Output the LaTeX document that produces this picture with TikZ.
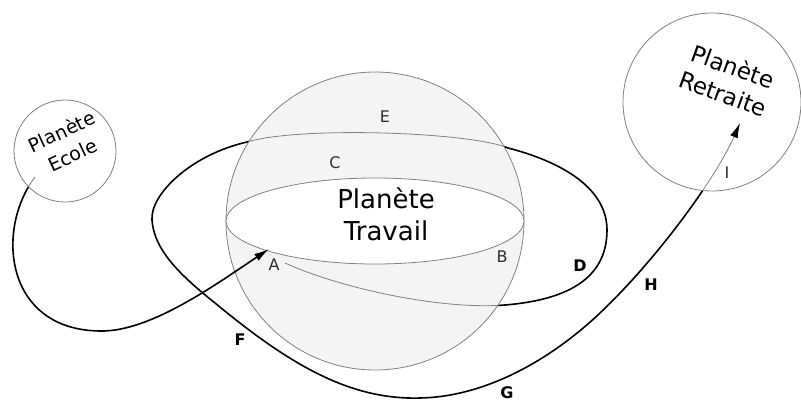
\documentclass[tikz,border=0pt]{standalone}
\usepackage{fontspec}
\setmainfont{DejaVu Sans}
\usetikzlibrary{arrows.meta}
\definecolor{orbitGray}{RGB}{128, 128, 128}
\definecolor{sphereFill}{RGB}{244, 244, 244}
\definecolor{labelInk}{RGB}{45, 45, 45}

% route of the orbit, from A round the planet to I
\newcommand{\orbitroute}{(ptA) .. controls (340,288) and (440,310) .. (505,305)
  .. controls (565,300) and (607,280) .. (607,230)
  .. controls (607,185) and (555,160) .. (508,148)
  .. controls (470,132) and (300,126) .. (247,142)
  .. controls (190,155) and (150,195) .. (152,220)
  .. controls (154,250) and (180,275) .. (215,303)
  .. controls (290,365) and (350,400) .. (420,398)
  .. controls (480,397) and (545,365) .. (600,313)
  .. controls (655,261) and (715,180) .. (ptI)}
\newcommand{\schoolroute}{(ecoleStart) .. controls (-5,230) and (5,330) .. (100,331)
  .. controls (150,332) and (215,285) .. (arrA)}

\begin{document}
\begin{tikzpicture}[
    x=1pt, y=-1pt,
    planet/.style={circle, draw=orbitGray, fill=white, line width=0.8pt, inner sep=0pt},
    orbit/.style={line width=1.6pt, color=black},
    inside/.style={line width=0.8pt, color=orbitGray},
    arrowend/.style={-{Latex[length=15pt, width=8pt, color=black]}},
    title/.style={align=center, inner sep=0pt},
    letter/.style={font=\fontsize{16pt}{18pt}\selectfont, text=labelInk, inner sep=0pt},
    boldletter/.style={font=\fontsize{16pt}{18pt}\selectfont\bfseries, inner sep=0pt}
  ]
  \useasboundingbox (0,0) rectangle (801,402);

  \coordinate (ptA) at (285,263);
  \coordinate (ptI) at (740,123);
  \coordinate (arrA) at (269,249);
  \coordinate (ecoleStart) at (35,177);

  % ORBIT (black part)
  \draw[orbit, arrowend] \orbitroute;

  % PLANETE TRAVAIL
  \node[planet, fill=sphereFill, minimum size=298pt] (travail) at (375,221) {};
  \draw[draw=orbitGray, fill=white, line width=0.8pt] (travail.center) ellipse (149 and 43);
  \begin{scope}
    \clip (travail.center) circle (148.6);
    \draw[inside] \orbitroute;
  \end{scope}

  % PLANETE RETRAITE
  \node[planet, minimum size=178pt] (retraite) at (712,102) {};
  \begin{scope}
    \clip (retraite.center) circle (88.6);
    \draw[inside, arrowend] \orbitroute;
  \end{scope}

  % PLANETE ECOLE
  \draw[orbit, arrowend] \schoolroute;
  \node[planet, minimum size=102pt] (ecole) at (65,151) {};
  \begin{scope}
    \clip (ecole.center) circle (50.6);
    \draw[inside] \schoolroute;
  \end{scope}

  % TEXTS
  \node[title, font=\fontsize{26pt}{32pt}\selectfont] (txtTravail) at (386,214) {Planète\\Travail};
  \node[title, rotate=25, font=\fontsize{19pt}{26pt}\selectfont] (txtEcole) at (67,143) {Planète\\Ecole};
  \node[title, rotate=-20, font=\fontsize{23pt}{29pt}\selectfont] (txtRetraite) at (728,80) {Planète\\Retraite};

  \node[letter] (lblE) at (385,117) {E};
  \node[letter] (lblC) at (335,163) {C};
  \node[letter] (lblA) at (274,265) {A};
  \node[letter] (lblB) at (502,257) {B};
  \node[letter] (lblI) at (727,173) {I};
  \node[boldletter] (lblD) at (580,266) {D};
  \node[boldletter] (lblF) at (240,340) {F};
  \node[boldletter] (lblG) at (507,393) {G};
  \node[boldletter] (lblH) at (651,285) {H};
\end{tikzpicture}
\end{document}
